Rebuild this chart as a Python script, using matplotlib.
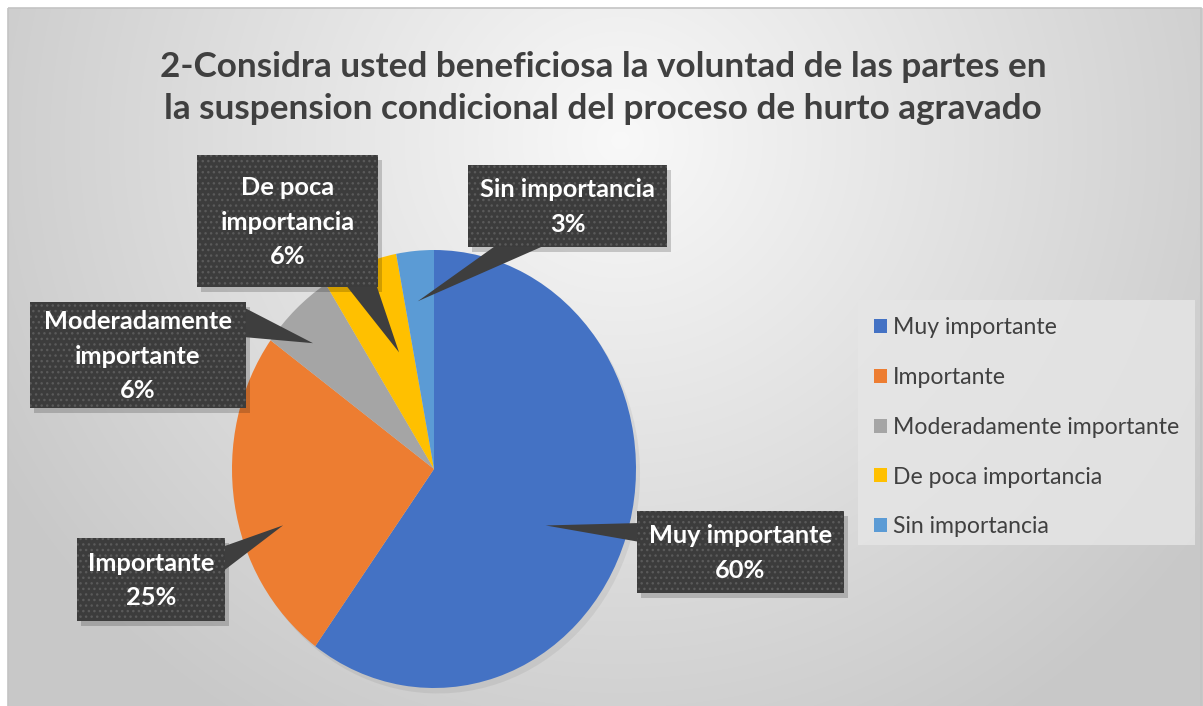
import numpy as np
import matplotlib.pyplot as plt
from matplotlib.patches import Rectangle, Polygon

plt.rcParams['font.family'] = ['Lato', 'DejaVu Sans']

title = "2-Considra usted beneficiosa la voluntad de las partes en\nla suspension condicional del proceso de hurto agravado"
categories = ["Muy importante", "Importante", "Moderadamente importante",
              "De poca importancia", "Sin importancia"]
values = [60, 25, 6, 6, 3]
box_labels = ["Muy importante", "Importante", "Moderadamente\nimportante",
              "De poca\nimportancia", "Sin importancia"]
colors = ["#4472C4", "#ED7D31", "#A5A5A5", "#FFC000", "#5B9BD5"]

W, H = 1203, 706
fig = plt.figure(figsize=(W / 100, H / 100), dpi=100)

# background with radial gradient
bg = fig.add_axes([0, 0, 1, 1])
bg.set_xlim(0, W)
bg.set_ylim(H, 0)
bg.axis('off')
xx, yy = np.meshgrid(np.arange(W), np.arange(H))
d = np.sqrt(((xx - 620) / 640.0) ** 2 + ((yy - 140) / 620.0) ** 2)
v = 0.975 - 0.17 * np.clip(d, 0, 1.1)
img = np.dstack([v, v, v])
img[:8, :] = 1.0
img[:, :8] = 1.0
bg.imshow(img, extent=(0, W, H, 0), aspect='auto', interpolation='bilinear')
bg.add_patch(Rectangle((8, 8), W - 10, H, fill=False, ec='#c4c4c4', lw=1.2))
bg.text(603, 88, title, ha='center', va='center', fontsize=25.3, fontweight='bold',
        color='#404040', linespacing=1.38)

# pie
ax = fig.add_axes([232 / W, (H - 688) / H, 404 / W, 438 / H])
shadow = ax.pie(values, colors=['#000000'] * 5, startangle=90, counterclock=False,
                radius=1.0, center=(0.02, -0.025),
                wedgeprops=dict(linewidth=0, alpha=0.06))
wedges, _ = ax.pie(values, colors=colors, startangle=90, counterclock=False,
                   wedgeprops=dict(linewidth=0))
ax.set_aspect('auto')
ax.set_xlim(-1, 1)
ax.set_ylim(-1, 1)

# callouts: box (x0, y0, x1, y1), pointer base points, tip radius and angle offset
boxes = [
    ((637, 511, 844, 593), [(640, 523), (640, 542)], 0.61, -7),
    ((77, 538, 225, 621), [(222, 547), (222, 572)], 0.79, 10),
    ((30, 302, 246, 408), [(243, 307), (243, 337)], 0.83, 3),
    ((197, 155, 378, 287), [(345, 284), (376, 284)], 0.56, -3.6),
    ((468, 165, 667, 247), [(498, 244), (548, 244)], 0.77, 0.6),
]

ov = fig.add_axes([0, 0, 1, 1])
ov.set_xlim(0, W)
ov.set_ylim(H, 0)
ov.axis('off')
ov.patch.set_alpha(0)

to_ov = ax.transData + ov.transData.inverted()
for w, (bx, base, r, off), lab, val in zip(wedges, boxes, box_labels, values):
    mid = np.deg2rad((w.theta1 + w.theta2) / 2 + off)
    tip = to_ov.transform((r * np.cos(mid), r * np.sin(mid)))
    x0, y0, x1, y1 = bx
    # shadow
    ov.add_patch(Rectangle((x0 + 4, y0 + 5), x1 - x0, y1 - y0, fc='#000000',
                           alpha=0.18, lw=0))
    ov.add_patch(Polygon([base[0], base[1], tip], closed=True, fc='#3e3e3e', lw=0))
    ov.add_patch(Rectangle((x0, y0), x1 - x0, y1 - y0, fc='#3c3c3c',
                           ec='#5a5a5a', lw=0, hatch='...'))
    ov.text((x0 + x1) / 2, (y0 + y1) / 2 + 1, f"{lab}\n{val}%", ha='center', va='center',
            fontsize=18.3, fontweight='bold', color='white', linespacing=1.6)

# legend
ov.add_patch(Rectangle((858, 300), 337, 245, fc='#e6e6e6', ec='none', alpha=0.8))
leg = ov.legend(wedges, categories, loc='upper left', bbox_to_anchor=(858 / W, 1 - 301 / H),
                bbox_transform=fig.transFigure, frameon=False, fontsize=16.6,
                handlelength=0.55, handleheight=0.55, handletextpad=0.25,
                labelspacing=1.25, borderpad=0.2)
for t in leg.get_texts():
    t.set_color('#404040')

fig.savefig('out.png', dpi=100)
